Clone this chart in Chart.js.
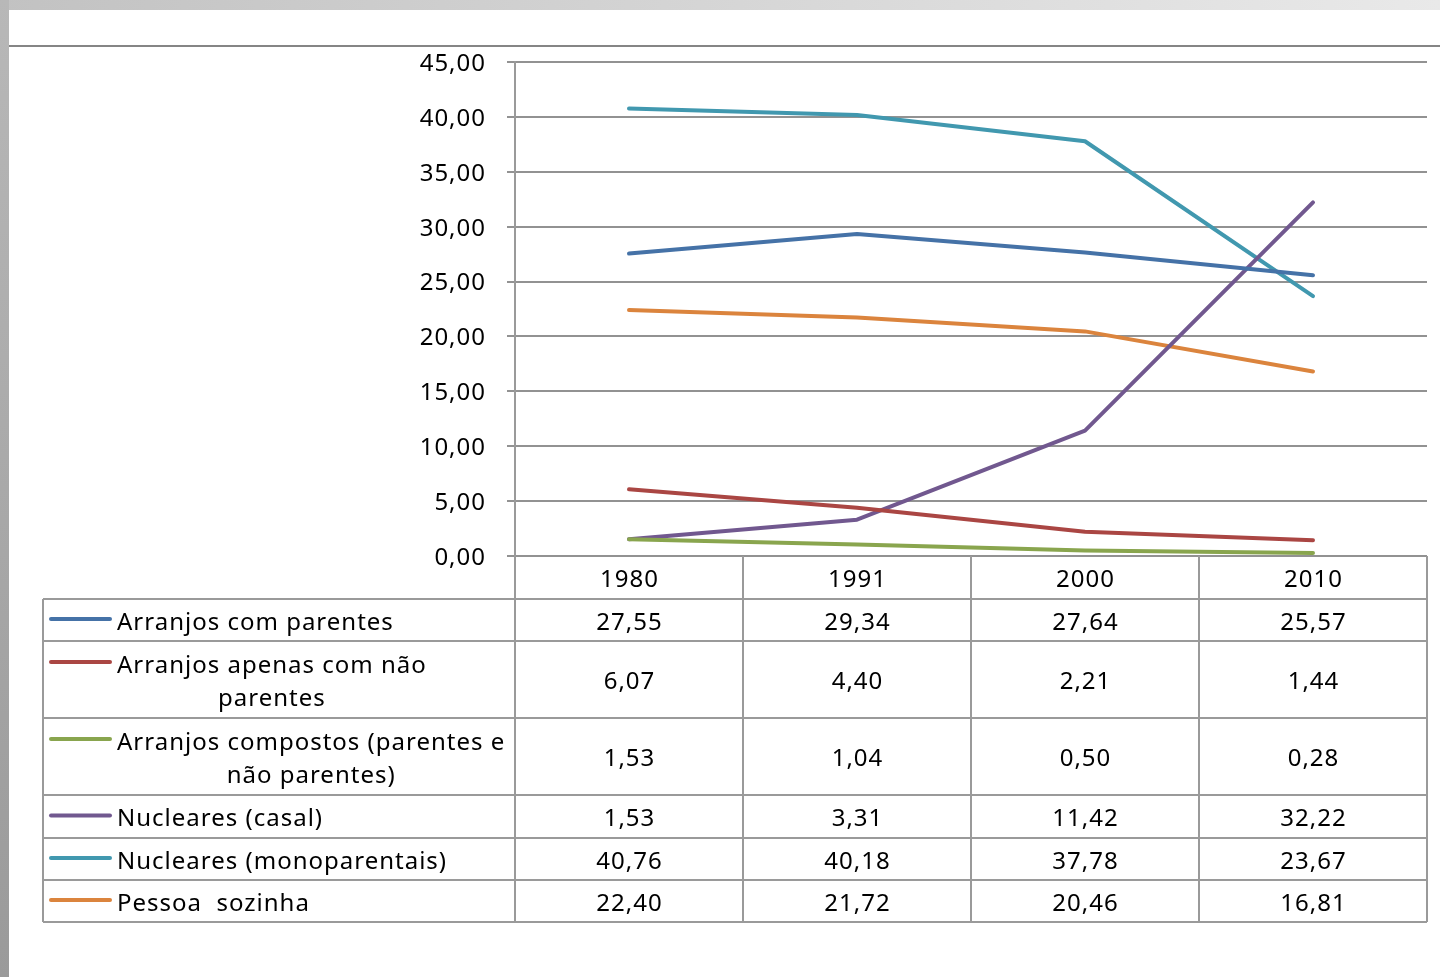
<!DOCTYPE html>
<html lang="pt">
<head>
<meta charset="utf-8">
<title>Arranjos domiciliares</title>
<script src="https://cdn.jsdelivr.net/npm/chart.js@4.4.1/dist/chart.umd.min.js"></script>
<style>
  html, body { margin: 0; padding: 0; background: #fff; }
  body { width: 1440px; height: 977px; position: relative; overflow: hidden; }
  #topband { position: absolute; left: 0; top: 0; width: 1440px; height: 10px;
    background: linear-gradient(to right, #c2c2c2, #e9e9e9); }
  #leftband { position: absolute; left: 0; top: 0; width: 9px; height: 977px;
    background: linear-gradient(to bottom, #b8b8b8, #9a9a9a); }
  #rule { position: absolute; left: 9px; top: 45px; width: 1431px; height: 2px; background: #858585; }
  #wrap { position: absolute; left: 0; top: 0; width: 1440px; height: 977px; }
</style>
</head>
<body>
<div id="topband"></div>
<div id="leftband"></div>
<div id="rule"></div>
<div id="wrap"><canvas id="chart" width="1440" height="977"></canvas></div>
<script>
// Censos
const years = ['1980', '1991', '2000', '2010'];

// Percentual de cada tipo de arranjo
const comParentes     = [27.55, 29.34, 27.64, 25.57];
const apenasNaoParent = [6.07, 4.40, 2.21, 1.44];
const compostos       = [1.53, 1.04, 0.50, 0.28];
const nuclearCasal    = [1.53, 3.31, 11.42, 32.22];
const nuclearMono     = [40.76, 40.18, 37.78, 23.67];
const pessoaSozinha   = [22.40, 21.72, 20.46, 16.81];

// Rótulos das séries (linhas da tabela)
const seriesLabels = [
  ['Arranjos com parentes'],
  ['Arranjos apenas com não', 'parentes'],
  ['Arranjos compostos (parentes e', 'não parentes)'],
  ['Nucleares (casal)'],
  ['Nucleares (monoparentais)'],
  ['Pessoa  sozinha']
];
const seriesData = [comParentes, apenasNaoParent, compostos, nuclearCasal, nuclearMono, pessoaSozinha];
const seriesColors = ['#4572a7', '#aa4643', '#89a54e', '#71588f', '#4198af', '#db843d'];

// Eixo Y
const yMin = 0, yMax = 45, yStep = 5;

const FONT = '"Noto Sans", "Open Sans", sans-serif';
const FONT_SIZE = 24;
const SPACING = '1px';
const fmt = v => v.toFixed(2).replace('.', ',');

// Geometria da tabela de dados sob o gráfico
const tableLeft = 43;
const headerHeight = 43;
const rowHeights = [42, 77, 77, 43, 42, 42];
const lineColor = '#9a9a9a';
const textDy = 3;

// wider tracking for every label drawn on the canvas
const tracking = {
  id: 'tracking',
  beforeDraw(chart) { chart.ctx.letterSpacing = SPACING; }
};

const dataTable = {
  id: 'dataTable',
  afterDraw(chart) {
    const ctx = chart.ctx;
    const xs = chart.scales.x;
    const area = chart.chartArea;
    const step = xs.getPixelForValue(1) - xs.getPixelForValue(0);
    const left = area.left, right = area.right;
    const top = area.bottom;
    const bodyTop = top + headerHeight;
    let bottom = bodyTop;
    rowHeights.forEach(h => bottom += h);

    ctx.save();
    ctx.letterSpacing = SPACING;
    ctx.strokeStyle = lineColor;
    ctx.lineWidth = 2;
    ctx.beginPath();
    // vertical column separators (including the axis line running through the table)
    for (let i = 0; i <= years.length; i++) {
      const x = Math.round(left + i * step);
      ctx.moveTo(x, i === 0 ? area.top : top);
      ctx.lineTo(x, bottom);
    }
    // left edge of the series label column
    ctx.moveTo(tableLeft, bodyTop);
    ctx.lineTo(tableLeft, bottom);
    // horizontal row lines
    let y = bodyTop;
    ctx.moveTo(tableLeft, y); ctx.lineTo(right, y);
    rowHeights.forEach(h => {
      y += h;
      ctx.moveTo(tableLeft, y); ctx.lineTo(right, y);
    });
    ctx.stroke();

    ctx.fillStyle = '#000';
    ctx.font = FONT_SIZE + 'px ' + FONT;
    ctx.textBaseline = 'middle';
    ctx.textAlign = 'center';

    // header: years
    years.forEach((yr, i) => {
      ctx.fillText(yr, xs.getPixelForValue(i) + 0.5, top + headerHeight / 2 + textDy);
    });

    // body rows
    let rowTop = bodyTop;
    const lineGap = 33;
    seriesLabels.forEach((lines, r) => {
      const h = rowHeights[r];
      const mid = rowTop + h / 2;
      const firstY = mid - (lines.length - 1) * lineGap / 2;

      // legend key
      ctx.strokeStyle = seriesColors[r];
      ctx.lineWidth = 4;
      ctx.lineCap = 'round';
      ctx.beginPath();
      ctx.moveTo(51, firstY - 1);
      ctx.lineTo(110, firstY - 1);
      ctx.stroke();

      // label text, lines centred on each other
      const textLeft = 117;
      const widths = lines.map(t => ctx.measureText(t).width);
      const blockCenter = textLeft + Math.max(...widths) / 2;
      ctx.textAlign = 'center';
      lines.forEach((t, k) => ctx.fillText(t, blockCenter, firstY + k * lineGap + textDy));

      // values
      seriesData[r].forEach((v, i) => {
        ctx.fillText(fmt(v), xs.getPixelForValue(i) + 0.5, mid + textDy);
      });
      rowTop += h;
    });
    ctx.restore();
  }
};

new Chart(document.getElementById('chart'), {
  type: 'line',
  data: {
    labels: years,
    datasets: seriesData.map((d, i) => ({
      label: seriesLabels[i].join(' '),
      data: d,
      borderColor: seriesColors[i],
      backgroundColor: seriesColors[i],
      borderWidth: 4,
      borderCapStyle: 'round',
      borderJoinStyle: 'round',
      pointRadius: 0,
      tension: 0,
      fill: false
    }))
  },
  options: {
    responsive: false,
    animation: false,
    events: [],
    layout: { padding: { left: 0, right: 13, top: 62, bottom: 421 } },
    plugins: { legend: { display: false }, tooltip: { enabled: false }, title: { display: false } },
    scales: {
      x: {
        type: 'category',
        offset: true,
        display: false
      },
      y: {
        min: yMin,
        max: yMax,
        afterFit(scale) { scale.width = 515; },
        ticks: {
          stepSize: yStep,
          padding: 21,
          labelOffset: 2,
          color: '#000',
          font: { family: FONT, size: FONT_SIZE },
          callback: v => fmt(v)
        },
        grid: {
          color: '#929292',
          lineWidth: 2,
          tickLength: 8,
          tickColor: '#929292'
        },
        border: { display: true, color: '#9a9a9a', width: 2 }
      }
    }
  },
  plugins: [tracking, dataTable]
});
</script>
</body>
</html>
